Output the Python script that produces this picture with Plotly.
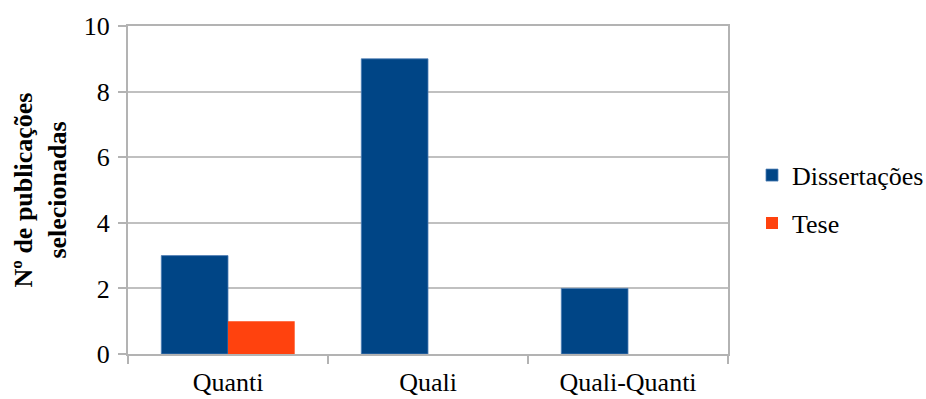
import plotly.graph_objects as go

categories = ["Quanti", "Quali", "Quali-Quanti"]
dissertacoes = [3, 9, 2]
tese = [1, 0, 0]
series_names = ["Dissertações", "Tese"]
y_ticks = [0, 2, 4, 6, 8, 10]

FONT = "Liberation Serif"

fig = go.Figure()
fig.add_trace(go.Bar(x=categories, y=dissertacoes, name=series_names[0],
                     marker=dict(color="#004586",
                                 line=dict(width=0.8, color="#4f7fb5")),
                     legendgroup="a"))
fig.add_trace(go.Bar(x=categories, y=tese, name=series_names[1],
                     marker=dict(color="#ff420e", line=dict(width=0)),
                     legendgroup="b"))

fig.update_layout(
    width=926, height=399,
    margin=dict(l=128, r=198, t=26, b=45, autoexpand=False),
    paper_bgcolor="white", plot_bgcolor="white",
    barmode="group", bargap=0.333, bargroupgap=0,
    font=dict(family=FONT, color="black", size=26),
    legend=dict(x=1.04, y=0.472, xanchor="left", yanchor="middle",
                font=dict(size=26, family=FONT, color="black"),
                traceorder="grouped", tracegroupgap=11, itemwidth=30),
    showlegend=True,
)
fig.update_xaxes(
    type="category", showgrid=False, showline=True, linecolor="#b3b3b3",
    linewidth=2, mirror=True, ticks="outside", tickson="boundaries",
    ticklen=8, tickcolor="#b3b3b3", tickwidth=1.5, ticklabelstandoff=4,
    tickfont=dict(size=26, family=FONT, color="black"),
)
fig.update_yaxes(
    range=[0, 10], tickvals=y_ticks, showgrid=True, gridcolor="#c0c0c0",
    gridwidth=1.5, showline=True, linecolor="#b3b3b3", linewidth=2,
    mirror=True, ticks="outside", ticklen=8, tickcolor="#b3b3b3",
    tickwidth=1.5, zeroline=False, ticklabelstandoff=3,
    tickfont=dict(size=26, family=FONT, color="black"),
    title=dict(text="<b>Nº de publicações<br>selecionadas</b>",
               font=dict(size=26, family=FONT, color="black"), standoff=10),
)

fig.write_html("out.html")
